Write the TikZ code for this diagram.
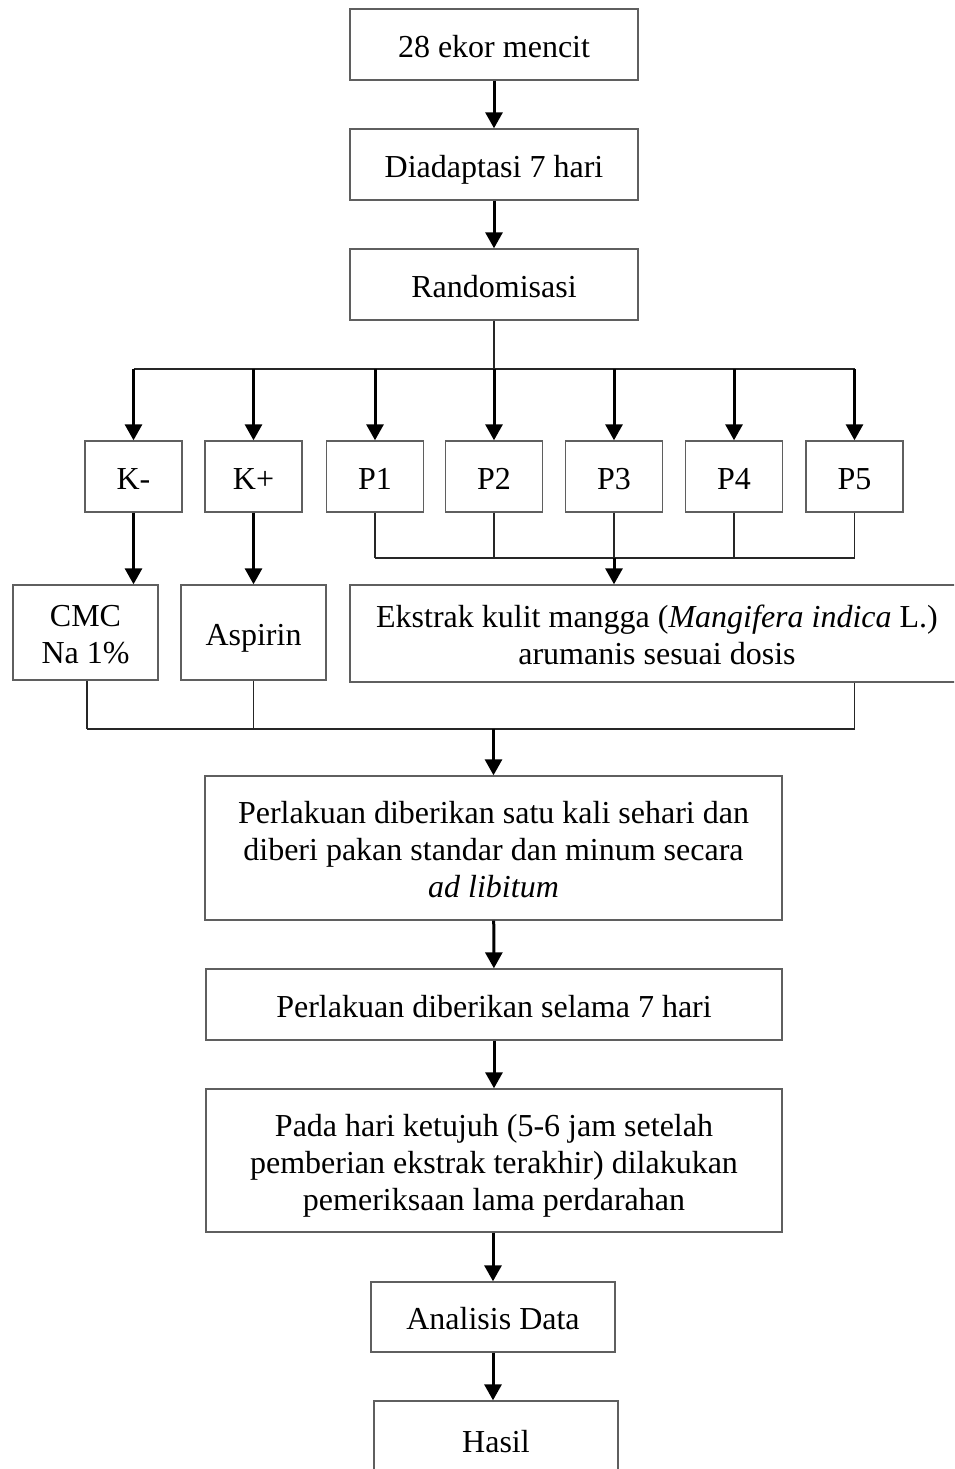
\documentclass[tikz,border=0pt]{standalone}
\usepackage{fontspec}
\setmainfont{Liberation Serif}
\usetikzlibrary{arrows.meta}
\definecolor{boxgray}{RGB}{95,95,95}
\newcommand\lowtxt[1]{\raisebox{-5.5pt}[\height][\depth]{\begin{tabular}{@{}c@{}}#1\end{tabular}}}
\tikzset{
  box/.style={draw=boxgray, line width=1.4pt, fill=white, inner sep=0pt, align=center,
    font=\fontsize{32}{37}\selectfont},
  arr/.style={line width=3pt, -{Triangle[width=17pt,length=16pt]}},
  conn/.style={line width=1.1pt, draw=black!85},
}
\begin{document}
\begin{tikzpicture}[x=1pt,y=-1pt]
\useasboundingbox (0,0) rectangle (954,1469);
\clip (0,0) rectangle (954,1469);
% main column
\node[box, minimum width=288, minimum height=71] (a) at (494,44.5) {\lowtxt{28 ekor mencit}};
\node[box, minimum width=288, minimum height=71] (b) at (494,164.5) {\lowtxt{Diadaptasi 7 hari}};
\node[box, minimum width=288, minimum height=71] (c) at (494,284.5) {\lowtxt{Randomisasi}};
% groups
\node[box, minimum width=97, minimum height=71] (km) at (133.5,476.5) {\lowtxt{K-}};
\node[box, minimum width=97, minimum height=71] (kp) at (253.5,476.5) {\lowtxt{K+}};
\node[box, minimum width=97, minimum height=71] (p1) at (375,476.5) {\lowtxt{P1}};
\node[box, minimum width=97, minimum height=71] (p2) at (494,476.5) {\lowtxt{P2}};
\node[box, minimum width=97, minimum height=71] (p3) at (614,476.5) {\lowtxt{P3}};
\node[box, minimum width=97, minimum height=71] (p4) at (734,476.5) {\lowtxt{P4}};
\node[box, minimum width=97, minimum height=71] (p5) at (854.5,476.5) {\lowtxt{P5}};
% treatments
\node[box, minimum width=145, minimum height=95] (cmc) at (85.5,632.5) {\lowtxt{CMC\\Na 1\%}};
\node[box, minimum width=145, minimum height=95] (asp) at (253.5,632.5) {\lowtxt{Aspirin}};
\node[box, minimum width=614, minimum height=97] (ek) at (657,633.5) {\lowtxt{Ekstrak kulit mangga (\textit{Mangifera indica} L.)\\arumanis sesuai dosis}};
% lower column
\node[box, minimum width=577, minimum height=144] (d) at (493.5,848) {\lowtxt{Perlakuan diberikan satu kali sehari dan\\diberi pakan standar dan minum secara\\\textit{ad libitum}}};
\node[box, minimum width=576, minimum height=71] (e) at (494,1004.5) {\lowtxt{Perlakuan diberikan selama 7 hari}};
\node[box, minimum width=576, minimum height=143] (f) at (494,1160.5) {\lowtxt{Pada hari ketujuh (5-6 jam setelah\\pemberian ekstrak terakhir) dilakukan\\pemeriksaan lama perdarahan}};
\node[box, minimum width=244, minimum height=70] (g) at (493,1317) {\lowtxt{Analisis Data}};
\node[box, minimum width=244, minimum height=78] (h) at (496,1440) {\lowtxt{Hasil}};
% coordinates
\coordinate (fanL) at (133.5,369);
\coordinate (fanR) at (854.5,369);
\coordinate (brkL) at (375,558);
\coordinate (brkR) at (854.5,558);
\coordinate (botL) at (87,729);
\coordinate (botR) at (854.5,729);
% arrows main
\draw[arr] (a) -- (b);
\draw[arr] (b) -- (c);
% fan out
\draw[conn] (c.south) -- (c.south |- fanL);
\draw[conn] (fanL) -- (fanR);
\foreach \n in {km,kp,p1,p2,p3,p4,p5}{
  \draw[arr] (\n.north |- fanL) -- (\n.north);
}
% K- and K+
\draw[arr] (km.south) -- (km.south |- cmc.north);
\draw[arr] (kp.south) -- (kp.south |- asp.north);
% P bracket
\foreach \n in {p1,p2,p3,p4,p5}{
  \draw[conn] (\n.south) -- (\n.south |- brkL);
}
\draw[conn] (brkL) -- (brkR);
\draw[arr] (p3.south |- brkL) -- (p3.south |- ek.north);
% lower bracket
\draw[conn] (botL |- cmc.south) -- (botL);
\draw[conn] (asp.south) -- (asp.south |- botL);
\draw[conn] (botR |- ek.south) -- (botR);
\draw[conn] (botL) -- (botR);
\draw[arr] (d.north |- botL) -- (d.north);
% rest
\draw[arr] (d) -- (e);
\draw[arr] (e) -- (e |- f.north);
\draw[arr] (f.south -| g) -- (g);
\draw[arr] (g.south) -- (g.south |- h.north);
\end{tikzpicture}
\end{document}
